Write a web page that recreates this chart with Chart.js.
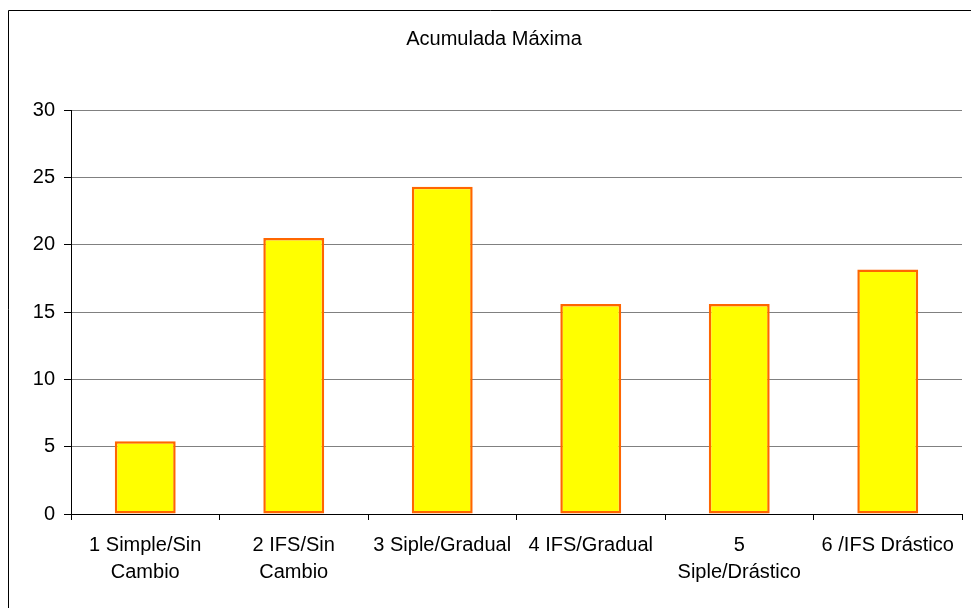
<!DOCTYPE html>
<html>
<head>
<meta charset="utf-8">
<script src="https://cdn.jsdelivr.net/npm/chart.js@4/dist/chart.umd.min.js"></script>
<style>
  html, body { margin: 0; padding: 0; background: #ffffff; }
  #wrap { width: 971px; height: 608px; position: relative; }
</style>
</head>
<body>
<div id="wrap"><canvas id="c" width="971" height="608"></canvas></div>
<script>
// Category labels (multi-line where the label wraps)
const categories = [
  ['1 Simple/Sin', 'Cambio'],
  ['2 IFS/Sin', 'Cambio'],
  '3 Siple/Gradual',
  '4 IFS/Gradual',
  ['5', 'Siple/Drástico'],
  '6 /IFS Drástico'
];
// Accumulated maximum for each scenario
const acumuladaMaxima = [5.4, 20.5, 24.3, 15.6, 15.6, 18.15];
// Value axis
const yTicks = [0, 5, 10, 15, 20, 25, 30];
const chartTitle = 'Acumulada Máxima';

const FONT = "'Liberation Sans', Arial, sans-serif";

// Frame around the whole chart (open on the right and bottom edges) and the title
const framePlugin = {
  id: 'frame',
  afterDraw(chart) {
    const ctx = chart.ctx;
    ctx.save();
    ctx.strokeStyle = '#000000';
    ctx.lineWidth = 1;
    ctx.beginPath();
    ctx.moveTo(8.5, chart.height + 5);
    ctx.lineTo(8.5, 10.5);
    ctx.lineTo(chart.width + 5, 10.5);
    ctx.stroke();

    ctx.fillStyle = '#000000';
    ctx.font = '20px ' + FONT;
    ctx.textAlign = 'center';
    ctx.textBaseline = 'middle';
    ctx.fillText(chartTitle, 494, 39);
    ctx.restore();
  }
};

new Chart(document.getElementById('c'), {
  type: 'bar',
  data: {
    labels: categories,
    datasets: [{
      label: chartTitle,
      data: acumuladaMaxima,
      backgroundColor: '#FFFF00',
      borderColor: '#FF6600',
      borderWidth: 2.5,
      borderSkipped: false,
      categoryPercentage: 1,
      barPercentage: 0.41
    }]
  },
  options: {
    responsive: false,
    animation: false,
    devicePixelRatio: 1,
    layout: { padding: { left: 0, right: 9, top: 110, bottom: 0 } },
    plugins: {
      legend: { display: false },
      tooltip: { enabled: false },
      title: { display: false }
    },
    scales: {
      x: {
        offset: true,
        grid: {
          offset: true,
          drawOnChartArea: false,
          drawTicks: true,
          tickLength: 6,
          color: '#000000'
        },
        border: { color: '#000000', width: 1 },
        ticks: {
          color: '#000000',
          font: { family: FONT, size: 20, lineHeight: 1.35 },
          padding: 12,
          maxRotation: 0,
          autoSkip: false
        },
        afterFit(scale) { scale.height = 94; }
      },
      y: {
        min: 0,
        max: 30,
        afterBuildTicks(scale) { scale.ticks = yTicks.map(v => ({ value: v })); },
        grid: {
          color: '#808080',
          lineWidth: 1,
          tickLength: 7,
          tickColor: '#000000'
        },
        border: { color: '#000000', width: 1 },
        ticks: {
          color: '#000000',
          font: { family: FONT, size: 20 },
          padding: 9
        },
        afterFit(scale) { scale.width = 71; }
      }
    }
  },
  plugins: [framePlugin]
});
</script>
</body>
</html>
